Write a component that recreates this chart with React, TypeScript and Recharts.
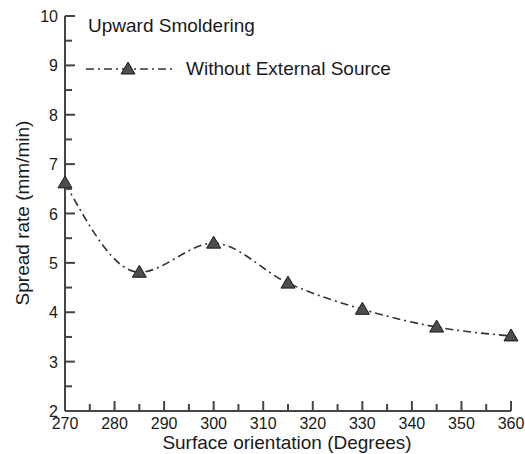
import { LineChart, Line, XAxis, YAxis } from 'recharts';

const orientation = [270, 285, 300, 315, 330, 345, 360];
const spreadRate = [6.62, 4.81, 5.4, 4.59, 4.06, 3.7, 3.52];
const xTicks = [270, 275, 280, 285, 290, 295, 300, 305, 310, 315, 320, 325, 330, 335, 340, 345, 350, 355, 360];
const yTicks = [2, 2.5, 3, 3.5, 4, 4.5, 5, 5.5, 6, 6.5, 7, 7.5, 8, 8.5, 9, 9.5, 10];

const data = orientation.map((o, i) => ({ o, rate: spreadRate[i] }));

const FONT = '"Liberation Sans", Arial, sans-serif';
const AXIS = '#444';
const TEXT = '#1a1a1a';

function YTick(props: any) {
  const { x, y, payload } = props;
  const major = Number.isInteger(payload.value);
  return (
    <g>
      <line x1={x} x2={x + (major ? 10 : 7)} y1={y} y2={y} stroke={AXIS} strokeWidth={2} />
      {major && (
        <text x={x - 7} y={y} dy={6} textAnchor="end" fontSize={16} fill={TEXT} fontFamily={FONT}>
          {payload.value}
        </text>
      )}
    </g>
  );
}

function XTick(props: any) {
  const { x, y, payload } = props;
  const major = payload.value % 10 === 0;
  return (
    <g>
      <line x1={x} x2={x} y1={y} y2={y - (major ? 10 : 7)} stroke={AXIS} strokeWidth={2} />
      {major && (
        <text x={x} y={y + 18} textAnchor="middle" fontSize={16} fill={TEXT} fontFamily={FONT}>
          {payload.value}
        </text>
      )}
    </g>
  );
}

function Triangle(props: any) {
  const { cx, cy, index } = props;
  if (cx == null || cy == null) return null;
  return (
    <path
      key={index}
      d={`M${cx},${cy - 7} L${cx + 7},${cy + 5} L${cx - 7},${cy + 5} Z`}
      fill="#4d4d4d"
      stroke="#1a1a1a"
      strokeWidth={1}
    />
  );
}

export default function App() {
  return (
    <div style={{ position: 'absolute', left: 0, top: 0, width: 525, height: 454, background: '#fff' }}>
      <LineChart width={525} height={454} data={data} margin={{ top: 16, right: 14, bottom: 0, left: 0 }}>
        <XAxis
          dataKey="o"
          type="number"
          domain={[270, 360]}
          ticks={xTicks}
          interval={0}
          tickSize={0}
          tickMargin={0}
          tickLine={false}
          height={43}
          stroke={AXIS}
          strokeWidth={2}
          tick={<XTick />}
        />
        <YAxis
          type="number"
          domain={[2, 10]}
          ticks={yTicks}
          interval={0}
          tickSize={0}
          tickMargin={0}
          tickLine={false}
          width={65}
          stroke={AXIS}
          strokeWidth={2}
          tick={<YTick />}
        />
        <Line
          type="monotone"
          dataKey="rate"
          stroke="#333"
          strokeWidth={1.6}
          strokeDasharray="8 4 2 4"
          dot={<Triangle />}
          activeDot={false}
          isAnimationActive={false}
        />
      </LineChart>
      <svg width={525} height={454} style={{ position: 'absolute', left: 0, top: 0, pointerEvents: 'none' }}>
        <text x={88} y={32} fontSize={19} fill={TEXT} fontFamily={FONT}>Upward Smoldering</text>
        <line x1={86} x2={172} y1={69} y2={69} stroke="#333" strokeWidth={1.6} strokeDasharray="8 4 2 4" />
        <path d="M128,62 L135,74 L121,74 Z" fill="#4d4d4d" stroke="#1a1a1a" strokeWidth={1} />
        <text x={186} y={75} fontSize={19} fill={TEXT} fontFamily={FONT}>Without External Source</text>
        <text x={287} y={449} textAnchor="middle" fontSize={19} fill={TEXT} fontFamily={FONT}>
          Surface orientation (Degrees)
        </text>
        <text
          x={29}
          y={213}
          textAnchor="middle"
          fontSize={19}
          fill={TEXT}
          fontFamily={FONT}
          transform="rotate(-90 29 213)"
        >
          Spread rate (mm/min)
        </text>
      </svg>
    </div>
  );
}
